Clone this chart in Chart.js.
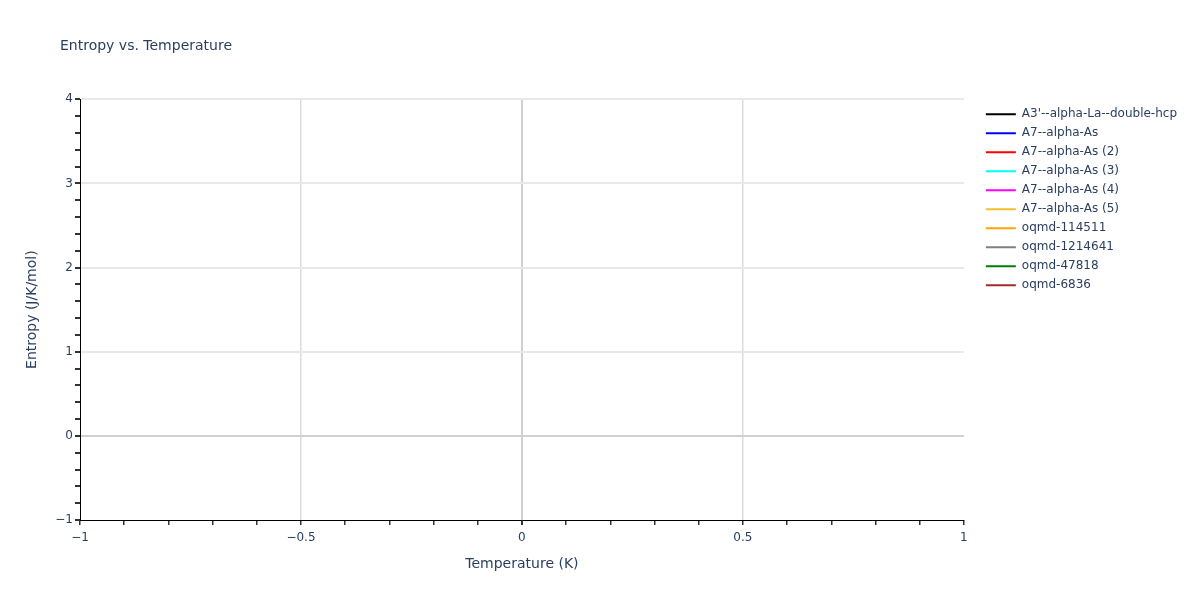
<!DOCTYPE html>
<html>
<head>
<meta charset="utf-8">
<script src="https://cdn.jsdelivr.net/npm/chart.js@4.4.1/dist/chart.umd.min.js"></script>
<style>
  html, body { margin: 0; padding: 0; background: #fff; }
  #wrap { width: 1200px; height: 600px; }
</style>
</head>
<body>
<div id="wrap"><canvas id="chartEntropia"></canvas></div>
<script>
// series names from the legend; the plot shows no points for any of them
var seriesNames = ["A3'--alpha-La--double-hcp", "A7--alpha-As", "A7--alpha-As (2)", "A7--alpha-As (3)",
    "A7--alpha-As (4)", "A7--alpha-As (5)", "oqmd-114511", "oqmd-1214641", "oqmd-47818", "oqmd-6836"];
var seriesColors = ['#000000', '#0000ff', '#ff0000', '#00ffff', '#ff00ff', '#f0c030', '#ffa500', '#808080', '#008000', '#a52a2a'];
var temperature = [];   // K
var entropy = [[], [], [], [], [], [], [], [], [], []];   // J/K/mol, one list per series

var xRange = [-1, 1];
var yRange = [-1, 4];

var fonte = 'DejaVu Sans';
var corTexto = '#2a3f5f';

function menos(v) {
    return String(v).replace('-', '\u2212');
}

var datasets = seriesNames.map(function (nome, i) {
    return {
        label: nome,
        data: temperature.map(function (t, j) { return { x: t, y: entropy[i][j] }; }),
        borderColor: seriesColors[i],
        backgroundColor: seriesColors[i],
        borderWidth: 2,
        pointRadius: 0,
        showLine: true
    };
});

// nudge title and legend to where the original puts them
var ajusteLayout = {
    id: 'ajusteLayout',
    afterLayout: function (chart) {
        chart.titleBlock.left += 40;
        chart.titleBlock.right += 40;
        chart.legend.left += 15;
        chart.legend.right += 15;
        chart.legend.top += 2;
        chart.legend.bottom += 2;
    }
};

var ctx = document.getElementById('chartEntropia').getContext('2d');
var chart = new Chart(ctx, {
    type: 'scatter',
    data: { datasets: datasets },
    plugins: [ajusteLayout],
    options: {
        responsive: true,
        maintainAspectRatio: false,
        animation: false,
        layout: { padding: { left: 20, right: 28, top: 0, bottom: 0 } },
        plugins: {
            title: {
                display: true,
                text: 'Entropy vs. Temperature',
                align: 'start',
                color: corTexto,
                font: { family: fonte, size: 14, weight: 'normal' },
                padding: { top: 38, bottom: 44.5 }
            },
            legend: {
                position: 'right',
                align: 'start',
                fullSize: false,
                labels: {
                    usePointStyle: true,
                    pointStyle: 'line',
                    pointStyleWidth: 30,
                    padding: 7,
                    color: corTexto,
                    font: { family: fonte, size: 12 }
                }
            },
            tooltip: { enabled: false }
        },
        scales: {
            x: {
                type: 'linear',
                min: xRange[0],
                max: xRange[1],
                afterFit: function (scale) { scale.height = 80; },
                ticks: {
                    stepSize: 0.1,
                    autoSkip: false,
                    maxRotation: 0,
                    padding: 6,
                    color: corTexto,
                    font: { family: fonte, size: 12 },
                    callback: function (v) {
                        var r = Math.round(v * 10) / 10;
                        return Math.abs(r * 2 - Math.round(r * 2)) < 1e-6 ? menos(r) : '';
                    }
                },
                grid: {
                    drawTicks: true,
                    tickLength: 5,
                    tickColor: '#333',
                    color: function (c) {
                        var v = Math.round(c.tick.value * 10) / 10;
                        if (v === xRange[0] || v === xRange[1]) return 'rgba(0,0,0,0)';
                        if (v === 0) return '#d0d0d0';
                        return Math.abs(v * 2 - Math.round(v * 2)) < 1e-6 ? '#dcdcdc' : 'rgba(0,0,0,0)';
                    },
                    lineWidth: function (c) {
                        return Math.round(c.tick.value * 10) === 0 ? 2 : 1.5;
                    }
                },
                border: { display: true, color: '#000', width: 1 },
                title: {
                    display: true,
                    text: 'Temperature (K)',
                    color: corTexto,
                    font: { family: fonte, size: 14 },
                    padding: { top: 0, bottom: 27 }
                }
            },
            y: {
                type: 'linear',
                min: yRange[0],
                max: yRange[1],
                afterFit: function (scale) { scale.width = 60; },
                ticks: {
                    stepSize: 0.2,
                    autoSkip: false,
                    padding: 2,
                    color: corTexto,
                    font: { family: fonte, size: 12 },
                    callback: function (v) {
                        var r = Math.round(v * 10) / 10;
                        return Number.isInteger(r) ? menos(r) : '';
                    }
                },
                grid: {
                    drawTicks: true,
                    tickLength: 5,
                    tickColor: '#333',
                    color: function (c) {
                        var v = Math.round(c.tick.value * 10) / 10;
                        if (v === yRange[0]) return 'rgba(0,0,0,0)';
                        if (v === 0) return '#d0d0d0';
                        return Number.isInteger(v) ? '#e8e8e8' : 'rgba(0,0,0,0)';
                    },
                    lineWidth: 2
                },
                border: { display: true, color: '#000', width: 1 },
                title: {
                    display: true,
                    text: 'Entropy (J/K/mol)',
                    color: corTexto,
                    font: { family: fonte, size: 14 },
                    padding: { top: 4, bottom: 0 }
                }
            }
        }
    }
});
</script>
</body>
</html>
